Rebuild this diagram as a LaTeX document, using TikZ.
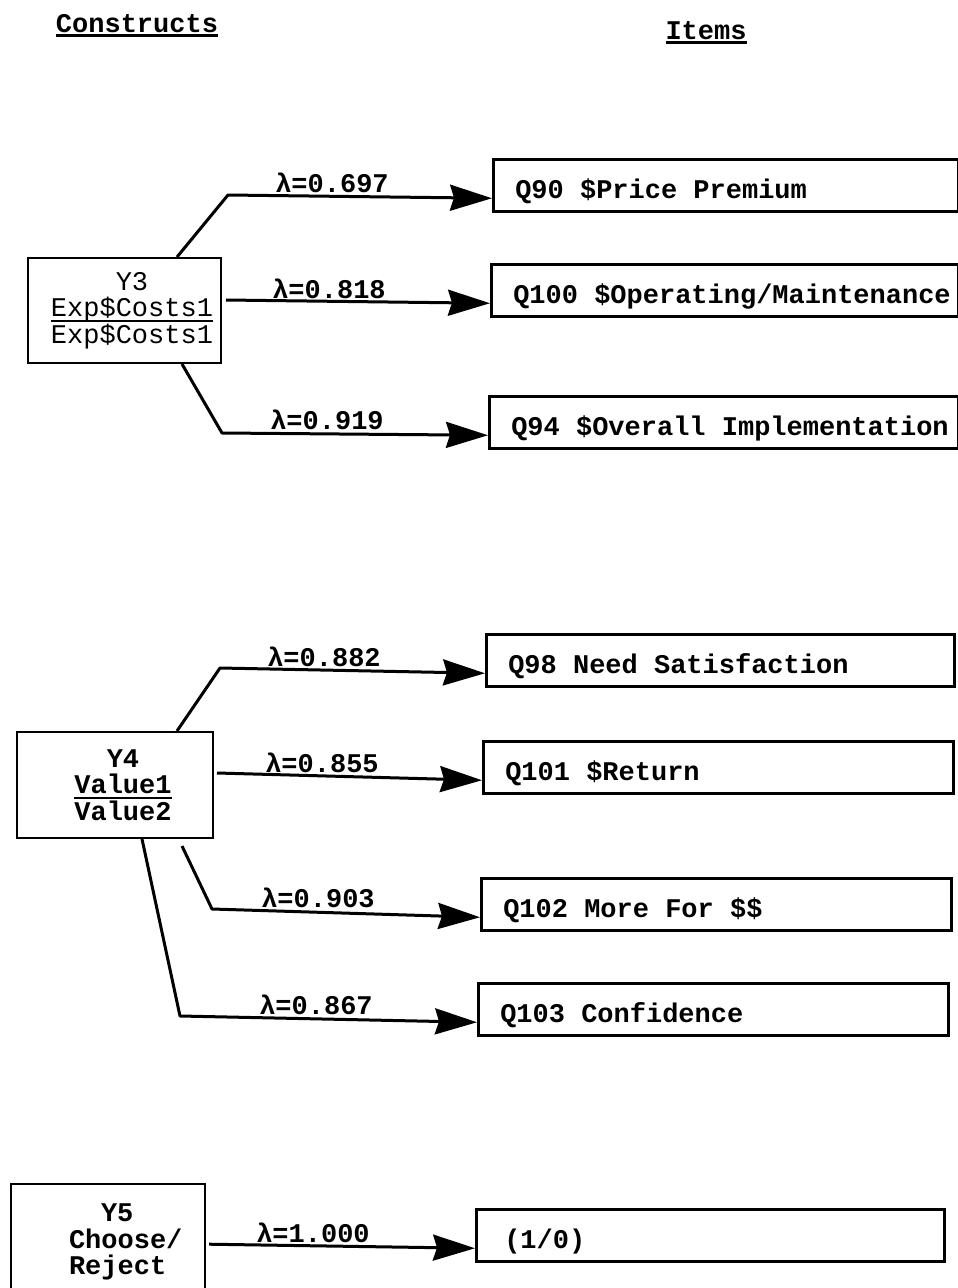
\documentclass[tikz,border=0pt]{standalone}
\usepackage{fontspec}
\newfontfamily\cour{Liberation Mono}
\usetikzlibrary{arrows.meta}
% underline drawn as a bar below the text: [depth]{thickness}{text}
\newlength\barlen
\newcommand\barbelow[3]{\settowidth{\barlen}{#3}\rlap{\rule[#1]{\barlen}{#2}}#3}
% item text set flush left in a box of fixed width
\newcommand\itemline[2]{\makebox[#1][l]{#2}}
\newcommand\txtfont{\cour\fontsize{27}{26.5}\selectfont}
\begin{document}
\begin{tikzpicture}[x=1pt,y=-1pt,
  every node/.style={font=\txtfont\bfseries},
  head/.style={anchor=base, inner sep=0pt},
  construct/.style={draw, line width=2pt, inner sep=0pt, align=center},
  item/.style={draw, line width=2.5pt, anchor=north west, inner xsep=22pt,
    inner ysep=0pt, text height=39pt, text depth=13pt},
  lab/.style={anchor=base, inner sep=0pt},
  conn/.style={line width=3pt, line join=round,
    -{Stealth[length=42pt,width=26pt,inset=4pt]}}]
\fill[white] (0,0) rectangle (958,1288);
\useasboundingbox (0,0) rectangle (958,1288);

% column headings
\node[head] (hc) at (137,32) {\barbelow{-5pt}{3.5pt}{Constructs}};
\node[head] (hi) at (706,39) {\barbelow{-5pt}{3.5pt}{Items}};

% constructs
\node[construct, minimum width=193pt, minimum height=105pt, font=\txtfont\mdseries]
  (y3) at (124.5,310.5)
  {\hspace*{15pt}Y3\\\hspace*{15pt}\barbelow{-5pt}{2pt}{Exp\$Costs1}\\\hspace*{15pt}Exp\$Costs1};
\node[construct, minimum width=196pt, minimum height=106pt]
  (y4) at (115,785)
  {\hspace*{16pt}Y4\\\hspace*{16pt}\barbelow{-5pt}{2pt}{Value1}\\\hspace*{16pt}Value2};
\node[construct, anchor=north west, inner xsep=22.6pt, inner ysep=20pt, align=left]
  (y5) at (10,1183)
  {\hspace*{67.4pt}Y5\\\hspace*{35.4pt}Choose/\\\hspace*{35.4pt}Reject};

% items
\node[item] (q90)  at (492,158) {\itemline{421pt}{Q90 \$Price Premium}};
\node[item] (q100) at (490,263) {\itemline{423pt}{Q100 \$Operating/Maintenance}};
\node[item] (q94)  at (488,395) {\itemline{425pt}{Q94 \$Overall Implementation}};
\node[item] (q98)  at (485,633) {\itemline{424pt}{Q98 Need Satisfaction}};
\node[item] (q101) at (482,740) {\itemline{426pt}{Q101 \$Return}};
\node[item] (q102) at (480,877) {\itemline{426pt}{Q102 More For \$\$}};
\node[item] (q103) at (477,982) {\itemline{426pt}{Q103 Confidence}};
\node[item, inner xsep=28pt] (q10) at (475,1208) {\itemline{412pt}{(1/0)}};

% loadings
\draw[conn] ([xshift=52.5pt]y3.north) -- (228,195) -- (q90.base west);
\draw[conn] ([shift={(4pt,10.5pt)}]y3.east) -- (q100.base west);
\draw[conn] ([xshift=57.5pt]y3.south) -- (222,433) -- (q94.base west);
\draw[conn] ([xshift=62pt]y4.north) -- (220,668) -- (q98.base west);
\draw[conn] ([shift={(3pt,12pt)}]y4.east) -- (q101.base west);
\draw[conn] ([shift={(67pt,-7pt)}]y4.south) -- (212,909) -- (q102.base west);
\draw[conn] ([xshift=27pt]y4.south) -- (180,1016) -- (q103.base west);
\draw[conn] ([shift={(3pt,-2pt)}]y5.east) -- (q10.base west);

\node[lab] (l1) at (332,192) {λ=0.697};
\node[lab] (l2) at (329,298) {λ=0.818};
\node[lab] (l3) at (327,429) {λ=0.919};
\node[lab] (l4) at (324,666) {λ=0.882};
\node[lab] (l5) at (322,772) {λ=0.855};
\node[lab] (l6) at (318,907) {λ=0.903};
\node[lab] (l7) at (316,1014) {λ=0.867};
\node[lab] (l8) at (313,1242) {λ=1.000};
\end{tikzpicture}
\end{document}
